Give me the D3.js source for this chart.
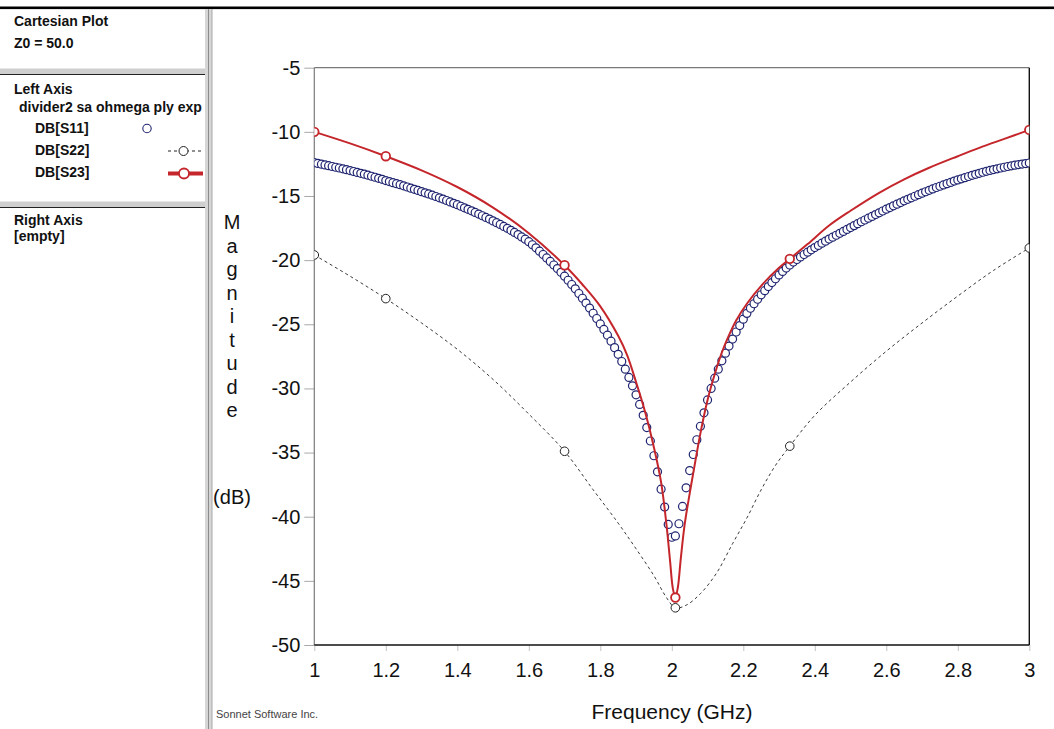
<!DOCTYPE html>
<html lang="en">
<head>
  <meta charset="UTF-8">
  <title>Cartesian Plot</title>
  <script src="https://cdnjs.cloudflare.com/ajax/libs/d3/7.8.5/d3.min.js"></script>
  <style>
    body { margin: 0; background: #fff; }
    text { font-family: "Liberation Sans", Arial, sans-serif; }
  </style>
</head>
<body>
<script>

// page size
var w = 1054;
var h = 729;

// plot box (pixel edges of the axes)
var plotLeft = 314.3, plotRight = 1029.3, plotTop = 67.7, plotBottom = 645;

// tick values and labels
var xTicks = [1, 1.2, 1.4, 1.6, 1.8, 2, 2.2, 2.4, 2.6, 2.8, 3];
var xTickLabels = ["1", "1.2", "1.4", "1.6", "1.8", "2", "2.2", "2.4", "2.6", "2.8", "3"];
var yTicks = [-5, -10, -15, -20, -25, -30, -35, -40, -45, -50];

// DB[S11]: sweep 1.00 .. 3.00 GHz, step 0.01 GHz
var s11Start = 1.0, s11Step = 0.01;
var s11Db = [
  -12.40,-12.46,-12.52,-12.58,-12.64,-12.70,-12.76,-12.82,-12.88,-12.95,
  -13.02,-13.09,-13.16,-13.23,-13.30,-13.38,-13.46,-13.54,-13.62,-13.70,
  -13.80,-13.88,-13.96,-14.04,-14.12,-14.21,-14.30,-14.39,-14.48,-14.57,
  -14.66,-14.75,-14.84,-14.94,-15.04,-15.14,-15.24,-15.35,-15.46,-15.57,
  -15.68,-15.80,-15.92,-16.04,-16.16,-16.28,-16.41,-16.54,-16.67,-16.80,
  -16.94,-17.08,-17.22,-17.37,-17.52,-17.68,-17.84,-18.01,-18.19,-18.37,
  -18.56,-18.80,-19.04,-19.30,-19.56,-19.83,-20.10,-20.38,-20.66,-20.95,
  -21.25,-21.57,-21.90,-22.24,-22.60,-22.97,-23.35,-23.74,-24.14,-24.55,
  -24.97,-25.40,-25.85,-26.32,-26.82,-27.34,-27.90,-28.50,-29.14,-29.80,
  -30.50,-31.25,-32.10,-33.05,-34.10,-35.25,-36.50,-37.85,-39.25,-40.60,
  -41.60,-41.50,-40.55,-39.20,-37.75,-36.40,-35.15,-34.00,-32.95,-31.90,
  -30.90,-30.00,-29.20,-28.50,-27.85,-27.25,-26.70,-26.15,-25.60,-25.10,
  -24.60,-24.15,-23.75,-23.40,-23.05,-22.70,-22.38,-22.06,-21.75,-21.45,
  -21.15,-20.88,-20.62,-20.38,-20.15,-19.95,-19.75,-19.56,-19.38,-19.20,
  -19.02,-18.85,-18.68,-18.52,-18.36,-18.21,-18.06,-17.91,-17.76,-17.61,
  -17.46,-17.31,-17.16,-17.01,-16.87,-16.73,-16.59,-16.45,-16.31,-16.17,
  -16.03,-15.90,-15.77,-15.64,-15.51,-15.38,-15.26,-15.14,-15.02,-14.90,
  -14.78,-14.67,-14.56,-14.45,-14.34,-14.24,-14.14,-14.04,-13.94,-13.84,
  -13.75,-13.66,-13.57,-13.48,-13.39,-13.31,-13.23,-13.15,-13.08,-13.01,
  -12.94,-12.88,-12.82,-12.76,-12.70,-12.65,-12.60,-12.55,-12.51,-12.47,
  -12.43
];

// DB[S22]: dashed trace
var s22Freq = [1.0, 1.1, 1.2, 1.3, 1.4, 1.5, 1.6, 1.7, 1.78, 1.85, 1.9, 1.95, 1.985, 2.01,
               2.04, 2.08, 2.125, 2.17, 2.21, 2.25, 2.29, 2.33, 2.4, 2.5, 2.6, 2.7, 2.8, 2.9, 3.0];
var s22Db = [-19.6, -21.25, -23.0, -24.9, -26.95, -29.3, -32.0, -34.9, -37.9, -40.5, -42.5, -44.6, -46.3, -47.1,
             -46.9, -46.0, -44.4, -42.1, -40.1, -37.9, -36.0, -34.5, -32.1, -29.5, -27.1, -24.9, -22.8, -20.8, -19.05];

// DB[S23]: red trace
var s23Freq = [1.0, 1.1, 1.2, 1.3, 1.4, 1.5, 1.6, 1.7, 1.75, 1.8, 1.85, 1.875, 1.9, 1.925, 1.95, 1.97,
               1.985, 1.995, 2.003, 2.01, 2.017, 2.025, 2.036, 2.05, 2.06, 2.08, 2.1, 2.12, 2.14, 2.16,
               2.18, 2.21, 2.25, 2.3, 2.33, 2.38, 2.44, 2.5, 2.58, 2.65, 2.72, 2.8, 2.86, 2.93, 3.0];
var s23Db = [-10.0, -10.9, -11.9, -13.0, -14.3, -15.9, -17.9, -20.4, -21.9, -23.6, -25.9, -27.4, -29.5, -31.8, -34.6, -37.3,
             -40.6, -43.4, -45.6, -46.3, -45.5, -43.3, -40.6, -38.2, -36.6, -33.5, -30.9, -28.9, -27.2, -25.85,
             -24.7, -23.4, -22.0, -20.6, -19.9, -18.75, -17.3, -16.15, -14.75, -13.7, -12.8, -11.9, -11.25, -10.55, -9.85];

// symbol markers on S22 / S23
var markerFreq = [1, 1.2, 1.7, 2.01, 2.33, 3];
var s22Marker = [-19.6, -23.0, -34.9, -47.1, -34.5, -19.05];
var s23Marker = [-10.0, -11.9, -20.4, -46.3, -19.9, -9.85];

// side panel text
var panelTitle = ["Cartesian Plot", "Z0 = 50.0"];
var leftAxisTitle = ["Left Axis", "divider2 sa ohmega ply exp"];
var legendNames = ["DB[S11]", "DB[S22]", "DB[S23]"];
var rightAxisTitle = ["Right Axis", "[empty]"];
var yLabelLetters = ["M", "a", "g", "n", "i", "t", "u", "d", "e"];

var navy = "#1f2470";
var red = "#c4262b";

var svg = d3.select("body").append("svg")
  .attr("width", w)
  .attr("height", h);

svg.append("rect").attr("width", w).attr("height", h).attr("fill", "#fff");

//Scales
var xScale = d3.scaleLinear().domain([1, 3]).range([plotLeft, plotRight]);
var yScale = d3.scaleLinear().domain([-50, -5]).range([plotBottom, plotTop]);

// ---------- side panel ----------
svg.append("rect").attr("x", 0).attr("y", 6.5).attr("width", w).attr("height", 2.6).attr("fill", "#000");

// horizontal separators in the panel
[68.5, 201.5].forEach(function(yy) {
  svg.append("rect").attr("x", 0).attr("y", yy).attr("width", 205).attr("height", 5.5).attr("fill", "#cfcfcf");
  svg.append("line").attr("x1", 0).attr("x2", 205).attr("y1", yy + 6).attr("y2", yy + 6)
    .attr("stroke", "#222").attr("stroke-width", 1.2);
});

// vertical splitter
svg.append("rect").attr("x", 205).attr("y", 9).attr("width", 7).attr("height", h - 9).attr("fill", "#d6d6d6");
svg.append("line").attr("x1", 208.5).attr("x2", 208.5).attr("y1", 9).attr("y2", h).attr("stroke", "#8c8c8c");
svg.append("line").attr("x1", 212).attr("x2", 212).attr("y1", 9).attr("y2", h).attr("stroke", "#a8a8a8");

var panelFont = function(sel) {
  return sel.attr("font-size", 14).attr("font-weight", "bold").attr("fill", "#111");
};

panelFont(svg.append("text").attr("x", 14).attr("y", 26).text(panelTitle[0]));
panelFont(svg.append("text").attr("x", 14).attr("y", 48).text(panelTitle[1]));
panelFont(svg.append("text").attr("x", 14).attr("y", 94).text(leftAxisTitle[0]));
panelFont(svg.append("text").attr("x", 19).attr("y", 112).text(leftAxisTitle[1]));
legendNames.forEach(function(n, i) {
  panelFont(svg.append("text").attr("x", 35).attr("y", 133 + i * 22).text(n));
});
panelFont(svg.append("text").attr("x", 14).attr("y", 225).text(rightAxisTitle[0]));
panelFont(svg.append("text").attr("x", 14).attr("y", 241).text(rightAxisTitle[1]));

// legend symbols
svg.append("circle").attr("cx", 147).attr("cy", 128.5).attr("r", 4.2)
  .attr("fill", "#fff").attr("stroke", navy).attr("stroke-width", 1.1);
svg.append("line").attr("x1", 168).attr("x2", 203).attr("y1", 151).attr("y2", 151)
  .attr("stroke", "#222").attr("stroke-dasharray", "3,3");
svg.append("circle").attr("cx", 183.5).attr("cy", 151).attr("r", 4.5)
  .attr("fill", "#fff").attr("stroke", "#222").attr("stroke-width", 1);
svg.append("line").attr("x1", 168).attr("x2", 203).attr("y1", 173.5).attr("y2", 173.5)
  .attr("stroke", red).attr("stroke-width", 4);
svg.append("circle").attr("cx", 184).attr("cy", 173.5).attr("r", 5)
  .attr("fill", "#fff").attr("stroke", red).attr("stroke-width", 1.8);

// ---------- plot ----------
svg.append("clipPath").attr("id", "plotclip")
  .append("rect")
  .attr("x", plotLeft).attr("y", plotTop)
  .attr("width", plotRight - plotLeft).attr("height", plotBottom - plotTop);

//Y axis
var yAxis = d3.axisLeft(yScale).tickValues(yTicks).tickSize(10).tickPadding(4)
  .tickFormat(function(d) { return d; });
var gy = svg.append("g").attr("transform", "translate(" + plotLeft + ",0)").call(yAxis);
gy.select(".domain").remove();
gy.selectAll("line").attr("stroke", "#a8a8a8");
gy.selectAll("text").attr("font-size", 20).attr("fill", "#111")
  .attr("font-family", "'Liberation Sans', Arial, sans-serif");

//X axis
var xAxis = d3.axisBottom(xScale).tickValues(xTicks).tickSize(6).tickPadding(12)
  .tickFormat(function(d, i) { return xTickLabels[i]; });
var gx = svg.append("g").attr("transform", "translate(0," + plotBottom + ")").call(xAxis);
gx.select(".domain").remove();
gx.selectAll("line").attr("stroke", "#c4c4c4");
gx.selectAll("text").attr("font-size", 20).attr("fill", "#111")
  .attr("font-family", "'Liberation Sans', Arial, sans-serif");

// frame: grey top/left, black right/bottom
svg.append("line").attr("x1", plotLeft).attr("x2", plotRight).attr("y1", plotTop).attr("y2", plotTop)
  .attr("stroke", "#7a7a7a").attr("stroke-width", 1.2);
svg.append("line").attr("x1", plotLeft).attr("x2", plotLeft).attr("y1", plotTop).attr("y2", plotBottom)
  .attr("stroke", "#7a7a7a").attr("stroke-width", 1.2);
svg.append("line").attr("x1", plotRight).attr("x2", plotRight).attr("y1", plotTop).attr("y2", plotBottom)
  .attr("stroke", "#111").attr("stroke-width", 1.4);
svg.append("line").attr("x1", plotLeft).attr("x2", plotRight).attr("y1", plotBottom).attr("y2", plotBottom)
  .attr("stroke", "#111").attr("stroke-width", 1.4);

var plot = svg.append("g").attr("clip-path", "url(#plotclip)");

var line = d3.line()
  .x(function(d) { return xScale(d[0]); })
  .y(function(d) { return yScale(d[1]); })
  .curve(d3.curveCatmullRom.alpha(0.5));

// S22 dashed
plot.append("path")
  .datum(s22Freq.map(function(f, i) { return [f, s22Db[i]]; }))
  .attr("d", line)
  .attr("fill", "none").attr("stroke", "#222").attr("stroke-width", 0.9)
  .attr("stroke-dasharray", "3,3");
plot.selectAll(".m22").data(markerFreq).enter().append("circle")
  .attr("class", "m22")
  .attr("cx", function(d) { return xScale(d); })
  .attr("cy", function(d, i) { return yScale(s22Marker[i]); })
  .attr("r", 4.3).attr("fill", "#fff").attr("stroke", "#222").attr("stroke-width", 1);

// S11 circles
plot.selectAll(".s11").data(s11Db).enter().append("circle")
  .attr("class", "s11")
  .attr("cx", function(d, i) { return xScale(s11Start + i * s11Step); })
  .attr("cy", function(d) { return yScale(d); })
  .attr("r", 4).attr("fill", "#fff").attr("stroke", navy).attr("stroke-width", 1.2);

// S23 red
plot.append("path")
  .datum(s23Freq.map(function(f, i) { return [f, s23Db[i]]; }))
  .attr("d", line)
  .attr("fill", "none").attr("stroke", red).attr("stroke-width", 2);
plot.selectAll(".m23").data(markerFreq).enter().append("circle")
  .attr("class", "m23")
  .attr("cx", function(d) { return xScale(d); })
  .attr("cy", function(d, i) { return yScale(s23Marker[i]); })
  .attr("r", 4.3).attr("fill", "#fff").attr("stroke", red).attr("stroke-width", 1.8);

// axis titles
svg.append("text").attr("x", 672).attr("y", 719).attr("text-anchor", "middle")
  .attr("font-size", 21).attr("fill", "#111").text("Frequency (GHz)");

svg.selectAll(".ylab").data(yLabelLetters).enter().append("text")
  .attr("class", "ylab")
  .attr("x", 232)
  .attr("y", function(d, i) { return 229 + i * 23.5; })
  .attr("text-anchor", "middle")
  .attr("font-size", 20).attr("fill", "#111")
  .text(function(d) { return d; });
svg.append("text").attr("x", 232).attr("y", 504).attr("text-anchor", "middle")
  .attr("font-size", 20).attr("fill", "#111").text("(dB)");

svg.append("text").attr("x", 216).attr("y", 718)
  .attr("font-size", 11).attr("fill", "#444").text("Sonnet Software Inc.");

</script>
</body>
</html>
